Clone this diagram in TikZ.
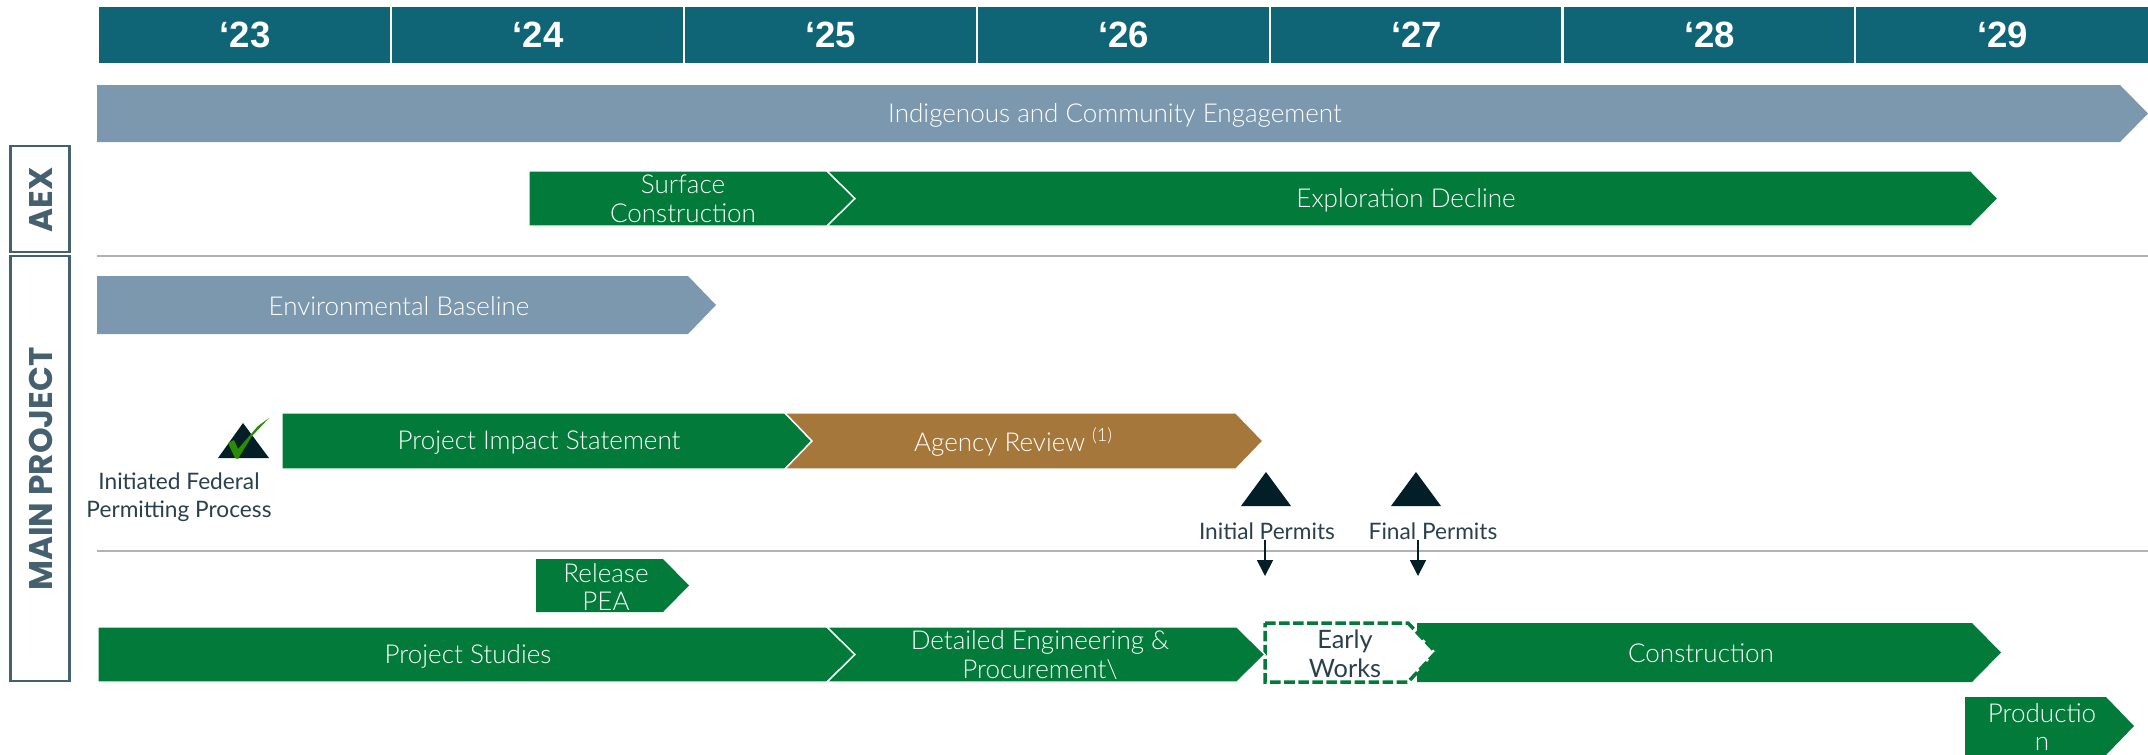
\documentclass[tikz,border=0pt]{standalone}
\usepackage{fontspec}
\setmainfont{Lato Light}
\newfontfamily\yearfont{Liberation Sans}
\newfontfamily\sidefont{Poppins}
\newfontfamily\darkfont{Lato}
\usepackage{xcolor}
\definecolor{headTeal}{HTML}{0F6475}
\definecolor{barSteel}{HTML}{7B98AE}
\definecolor{barGreen}{HTML}{027B3A}
\definecolor{barBrown}{HTML}{A5773A}
\definecolor{peakDark}{HTML}{021E26}
\definecolor{sideSlate}{HTML}{45606F}
\definecolor{labelSlate}{HTML}{2A404C}
\definecolor{tickGreen}{HTML}{2A8B05}
\usetikzlibrary{arrows.meta, positioning}
\tikzset{
    yearcell/.style={fill=headTeal, draw=white, line width=0.6pt, text=white, inner sep=0pt, minimum width=2.94cm, minimum height=0.58cm, font=\yearfont\bfseries\fontsize{10.4}{12}\selectfont},
    barlabel/.style={text=white, inner sep=0pt, align=center, font=\fontsize{7.4}{8.2}\selectfont},
    darklabel/.style={text=labelSlate, inner sep=0pt, align=center, font=\darkfont\fontsize{6.45}{8}\selectfont},
    greenbar/.style={fill=barGreen, draw=white, line width=0.4pt},
    steelbar/.style={fill=barSteel},
    brownbar/.style={fill=barBrown, draw=white, line width=0.4pt},
    peak/.style={fill=peakDark},
    sidebox/.style={draw=sideSlate, line width=0.7pt, fill=white},
    sidelabel/.style={text=sideSlate, rotate=90, inner sep=0pt, font=\sidefont\bfseries\fontsize{9.3}{10}\selectfont},
    sepline/.style={draw=black!30, line width=0.45pt},
    permitarrow/.style={draw=peakDark, line width=0.5pt, -{Triangle[length=0.16cm, width=0.16cm]}},
}

\begin{document}
\begin{tikzpicture}[x=0.01cm, y=-0.01cm]
    \useasboundingbox (0,0) rectangle (2148,754);

    % Year header
    \foreach \yr [count=\i] in {23,24,25,26,27,28,29} {
        \node[yearcell] (year\yr) at ({98.6+292.9*(\i-0.5)},35) {‘\yr};
    }

    % Side boxes
    \draw[sidebox] (10.5,146) rectangle (69.5,252);
    \node[sidelabel] (aex) at (41,200) {AEX};
    \draw[sidebox] (10.5,256) rectangle (69.5,681);
    \node[sidelabel] (mainproject) at (41,469) {MAIN PROJECT};

    % Separators
    \coordinate (sepAL) at (97,256);
    \coordinate (sepAR) at (2148,256);
    \coordinate (sepBL) at (97,551);
    \coordinate (sepBR) at (2148,551);
    \draw[sepline] (sepAL) -- (sepAR);
    \draw[sepline] (sepBL) -- (sepBR);

    % Engagement row
    \fill[steelbar] (97,85) -- (2120,85) -- (2148,113.5) -- (2120,142) -- (97,142) -- cycle;
    \node[barlabel] (engagement) at (1115,115) {Indigenous and Community Engagement};

    % AEX row
    \filldraw[greenbar] (529,171) -- (827,171) -- (855,198.5) -- (827,226) -- (529,226) -- cycle;
    \node[barlabel] (surface) at (683,199) {Surface\\Construction};
    \filldraw[greenbar] (827,171) -- (1971,171) -- (1998,198.5) -- (1971,226) -- (827,226) -- (855,198.5) -- cycle;
    \node[barlabel] (decline) at (1406,200) {Exploration Decline};

    % Baseline and permitting rows
    \fill[steelbar] (97,276) -- (688,276) -- (716,305) -- (688,334) -- (97,334) -- cycle;
    \node[barlabel] (baseline) at (399,306) {Environmental Baseline};

    \fill[peak] (243,423) -- (269,458) -- (218,458) -- cycle;
    \fill[tickGreen] (228,443) -- (234,440) -- (238,449) -- (258,426) -- (269,418) -- (252,436) -- (238,459) -- (235,458) -- cycle;
    \node[darklabel] (federal) at (179,497.5) {Initiated Federal\\Permitting Process};

    \filldraw[greenbar] (282,413) -- (785,413) -- (812,441) -- (785,469) -- (282,469) -- cycle;
    \node[barlabel] (impact) at (539,443) {Project Impact Statement};
    \filldraw[brownbar] (785,413) -- (1236,413) -- (1263,441) -- (1236,469) -- (785,469) -- (812,441) -- cycle;
    \node[barlabel] (agency) at (1014,442) {Agency Review \textsuperscript{(1)}};

    % Permit milestones
    \fill[peak] (1266,472) -- (1291,506) -- (1241,506) -- cycle;
    \fill[peak] (1416,472) -- (1441,506) -- (1391,506) -- cycle;
    \node[darklabel] (initial) at (1267,531) {Initial Permits};
    \node[darklabel] (final) at (1433,531) {Final Permits};
    \coordinate (initialEnd) at (1265,576);
    \coordinate (finalEnd) at (1418,576);
    \draw[permitarrow] (initial.south -| initialEnd) -- (initialEnd);
    \draw[permitarrow] (final.south -| finalEnd) -- (finalEnd);

    % Project rows
    \fill[fill=barGreen] (536,559) -- (663,559) -- (689,585.5) -- (663,612) -- (536,612) -- cycle;
    \node[barlabel] (release) at (606,587) {Release\\PEA};

    \filldraw[greenbar] (98,627) -- (827,627) -- (855,654.5) -- (827,682) -- (98,682) -- cycle;
    \node[barlabel] (studies) at (468,656.5) {Project Studies};

    \fill[fill=barGreen] (1417,623) -- (1972,623) -- (2001,652.5) -- (1972,682) -- (1417,682) -- cycle;
    \node[barlabel] (construction) at (1701,653.5) {Construction};
    \draw[draw=barGreen, fill=white, line width=1pt, dash pattern=on 3pt off 1pt] (1265,623) -- (1408,623) -- (1436,652.5) -- (1408,682) -- (1265,682) -- cycle;
    \node[darklabel, font=\darkfont\fontsize{7.2}{8.2}\selectfont] (early) at (1345,654) {Early\\Works};

    \filldraw[greenbar] (827,627) -- (1237,627) -- (1265,654.5) -- (1237,682) -- (827,682) -- (855,654.5) -- cycle;
    \node[barlabel] (detailed) at (1040,655) {Detailed Engineering \&\\Procurement\textbackslash};

    \fill[fill=barGreen] (1965,697) -- (2106,697) -- (2134,726) -- (2106,755) -- (1965,755) -- cycle;
    \node[barlabel] (production) at (2042,727) {Productio\\n};
\end{tikzpicture}
\end{document}
